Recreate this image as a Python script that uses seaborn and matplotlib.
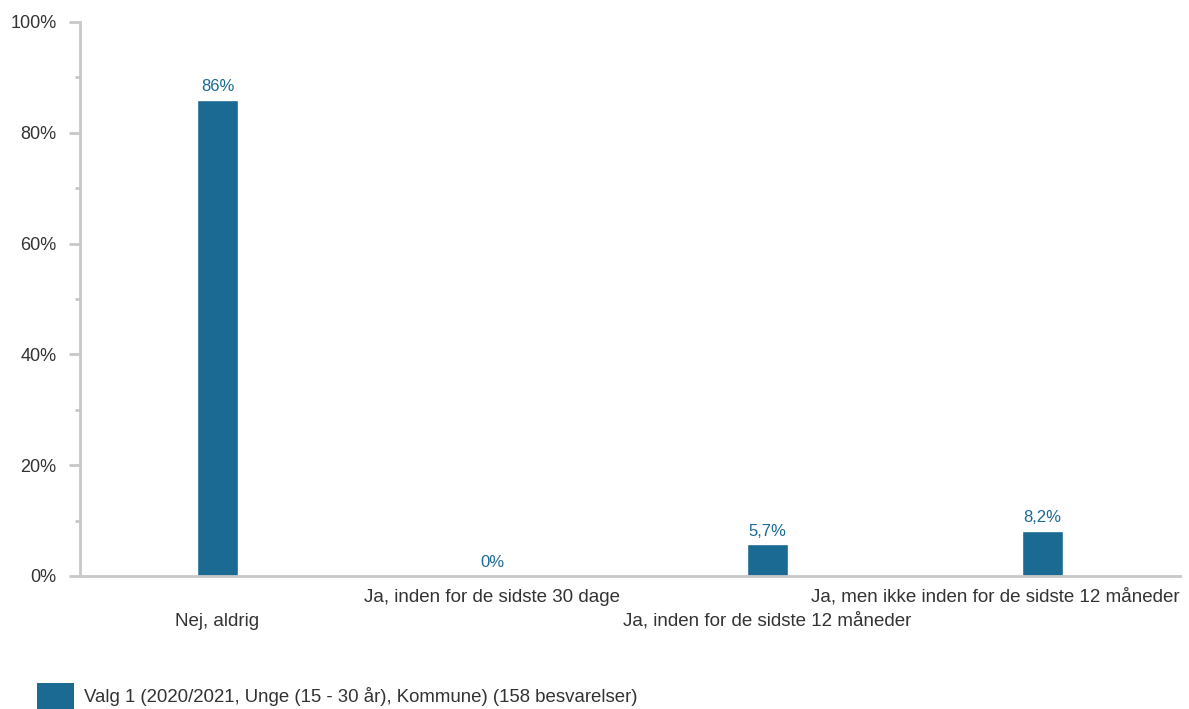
import matplotlib
matplotlib.use("Agg")
import matplotlib.pyplot as plt
import matplotlib.transforms as mtransforms
from matplotlib.patches import Patch
from matplotlib.ticker import MultipleLocator, FuncFormatter
import seaborn as sns
import pandas as pd

categories = ["Nej, aldrig", "Ja, inden for de sidste 30 dage",
              "Ja, inden for de sidste 12 måneder",
              "Ja, men ikke inden for de sidste 12 måneder"]
values = [86.0, 0.0, 5.7, 8.2]
value_labels = ["86%", "0%", "5,7%", "8,2%"]
series_name = "Valg 1 (2020/2021, Unge (15 - 30 år), Kommune) (158 besvarelser)"
yticks = [0, 20, 40, 60, 80, 100]

BAR = "#1a6a93"
GRID = "#c8c8c8"
TXT = "#333333"

sns.set_theme(style="white")
plt.rcParams['font.family'] = ['Liberation Sans', 'DejaVu Sans']

df = pd.DataFrame({"cat": categories, "val": values})

fig = plt.figure(figsize=(11.89, 7.09), dpi=100)
ax = fig.add_axes([80/1189, 1-576/709, 1100/1189, (576-22)/709])
sns.barplot(data=df, x="cat", y="val", color=BAR, width=0.15, ax=ax,
            saturation=1, order=categories)

ax.set_xlim(-0.5, len(categories) - 0.5)
ax.set_ylim(0, 100)
ax.set_xlabel("")
ax.set_ylabel("")

for s in ["top", "right"]:
    ax.spines[s].set_visible(False)
for s in ["left", "bottom"]:
    ax.spines[s].set_color(GRID)
    ax.spines[s].set_linewidth(2)

ax.set_yticks(yticks)
ax.yaxis.set_minor_locator(MultipleLocator(10))
ax.yaxis.set_major_formatter(FuncFormatter(lambda v, p: f"{int(v)}%"))
ax.tick_params(axis="y", which="major", length=8, width=2, color=GRID,
               labelsize=13, labelcolor=TXT, pad=9, left=True)
ax.tick_params(axis="y", which="minor", length=3.5, width=2, color=GRID, left=True)
ax.tick_params(axis="x", length=0, labelbottom=False)

# category labels (staggered)
trans = mtransforms.blended_transform_factory(ax.transData, ax.transAxes)
axes_trans = ax.transAxes
for i, c in enumerate(categories):
    dy = -45 if i % 2 == 0 else -21
    if i == len(categories) - 1:
        off = mtransforms.offset_copy(axes_trans, fig=fig, x=0, y=dy, units="dots")
        ax.text(1.0, 0, c, transform=off, ha="right", va="center",
                fontsize=13.5, color=TXT)
    else:
        off = mtransforms.offset_copy(trans, fig=fig, x=0, y=dy, units="dots")
        ax.text(i, 0, c, transform=off, ha="center", va="center",
                fontsize=13.5, color=TXT)

for cont in ax.containers:
    ax.bar_label(cont, labels=value_labels, padding=4, color=BAR, fontsize=12)

fig.legend(handles=[Patch(facecolor=BAR, edgecolor="none", label=series_name)],
           loc="lower left", bbox_to_anchor=(37/1189, 0), frameon=False,
           borderpad=0, borderaxespad=0,
           fontsize=13.4, handlelength=2.0, handleheight=1.75, handletextpad=0.5,
           labelcolor=TXT)

fig.savefig("out.png", dpi=100)
